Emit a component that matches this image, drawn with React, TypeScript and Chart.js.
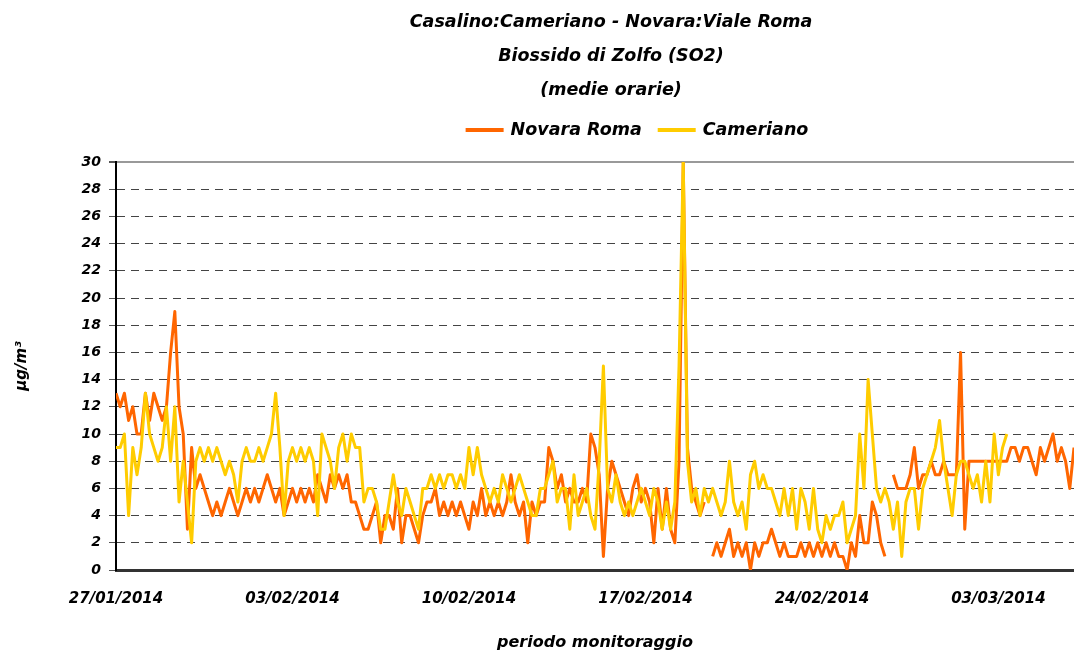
import React, { useEffect, useRef } from 'react';
import { Chart, registerables } from 'chart.js';

Chart.register(...registerables);

// Time step between values (hours), starting 27/01/2014 00:00
const STEP_HOURS = 4;
const HOURS_PER_WEEK = 168;
const X_MAX_HOURS = 912;

const WEEK_LABELS = ['27/01/2014', '03/02/2014', '10/02/2014', '17/02/2014', '24/02/2014', '03/03/2014'];

const TITLE_LINES = ['Casalino:Cameriano - Novara:Viale Roma', 'Biossido di Zolfo (SO2)', '(medie orarie)'];
const SERIES_NAMES = ['Novara Roma', 'Cameriano'];
const SERIES_COLORS = ['#FF6600', '#FFCC00'];
const Y_TITLE = 'µg/m³';
const X_TITLE = 'periodo monitoraggio';

const NOVARA_ROMA: (number | null)[] = [
  13, 12, 13, 11, 12, 10, 10, 13, 11, 13,
  12, 11, 12, 16, 19, 12, 10, 3, 9, 6,
  7, 6, 5, 4, 5, 4, 5, 6, 5, 4,
  5, 6, 5, 6, 5, 6, 7, 6, 5, 6,
  4, 5, 6, 5, 6, 5, 6, 5, 7, 6,
  5, 7, 6, 7, 6, 7, 5, 5, 4, 3,
  3, 4, 5, 2, 4, 4, 3, 6, 2, 4,
  4, 3, 2, 4, 5, 5, 6, 4, 5, 4,
  5, 4, 5, 4, 3, 5, 4, 6, 4, 5,
  4, 5, 4, 5, 7, 5, 4, 5, 2, 5,
  4, 5, 5, 9, 8, 6, 7, 5, 6, 5,
  5, 6, 5, 10, 9, 7, 1, 6, 8, 7,
  6, 5, 4, 6, 7, 5, 6, 5, 2, 6,
  3, 6, 3, 2, 8, 30, 9, 6, 5, 4,
  5, null, 1, 2, 1, 2, 3, 1, 2, 1,
  2, 0, 2, 1, 2, 2, 3, 2, 1, 2,
  1, 1, 1, 2, 1, 2, 1, 2, 1, 2,
  1, 2, 1, 1, 0, 2, 1, 4, 2, 2,
  5, 4, 2, 1, null, 7, 6, 6, 6, 7,
  9, 6, 7, 7, 8, 7, 7, 8, 7, 7,
  7, 16, 3, 8, 8, 8, 8, 8, 8, 8,
  8, 8, 8, 9, 9, 8, 9, 9, 8, 7,
  9, 8, 9, 10, 8, 9, 8, 6, 9,
];

const CAMERIANO: (number | null)[] = [
  9, 9, 10, 4, 9, 7, 9, 13, 10, 9,
  8, 9, 12, 8, 12, 5, 8, 5, 2, 8,
  9, 8, 9, 8, 9, 8, 7, 8, 7, 5,
  8, 9, 8, 8, 9, 8, 9, 10, 13, 9,
  4, 8, 9, 8, 9, 8, 9, 8, 4, 10,
  9, 8, 6, 9, 10, 8, 10, 9, 9, 5,
  6, 6, 5, 3, 3, 5, 7, 5, 4, 6,
  5, 4, 3, 6, 6, 7, 6, 7, 6, 7,
  7, 6, 7, 6, 9, 7, 9, 7, 6, 5,
  6, 5, 7, 6, 5, 6, 7, 6, 5, 4,
  4, 6, 6, 7, 8, 5, 6, 6, 3, 7,
  4, 5, 6, 4, 3, 8, 15, 6, 5, 7,
  5, 4, 5, 4, 5, 6, 5, 4, 6, 5,
  3, 5, 3, 5, 15, 30, 8, 5, 6, 4,
  6, 5, 6, 5, 4, 5, 8, 5, 4, 5,
  3, 7, 8, 6, 7, 6, 6, 5, 4, 6,
  4, 6, 3, 6, 5, 3, 6, 3, 2, 4,
  3, 4, 4, 5, 2, 3, 4, 10, 6, 14,
  10, 6, 5, 6, 5, 3, 5, 1, 5, 6,
  6, 3, 6, 7, 8, 9, 11, 8, 6, 4,
  7, 8, 8, 7, 6, 7, 5, 8, 5, 10,
  7, 9, 10,
];

const FONT = '"Comic Sans MS", "DejaVu Sans", sans-serif';

const toPoints = (arr: (number | null)[]) => arr.map((v, i) => ({ x: i * STEP_HOURS, y: v }));

const headerPlugin = {
  id: 'header',
  afterDraw(chart: any) {
    const ctx = chart.ctx as CanvasRenderingContext2D;
    ctx.save();
    ctx.fillStyle = '#000';
    ctx.textBaseline = 'middle';
    ctx.textAlign = 'center';
    ctx.font = `italic bold 17.5px ${FONT}`;
    const titleY = [22, 56, 90];
    TITLE_LINES.forEach((t, i) => ctx.fillText(t, 611, titleY[i]));

    const lineLen = 38;
    const gap = 7;
    const itemGap = 16;
    const items = chart.data.datasets.map((ds: any) => ({
      label: ds.label as string,
      color: ds.borderColor as string,
      w: ctx.measureText(ds.label).width,
    }));
    const total = items.reduce((s: number, it: any) => s + lineLen + gap + it.w, 0) + itemGap * (items.length - 1);
    let x = 637 - total / 2;
    const y = 130;
    ctx.textAlign = 'left';
    items.forEach((it: any) => {
      ctx.strokeStyle = it.color;
      ctx.lineWidth = 4;
      ctx.beginPath();
      ctx.moveTo(x, y);
      ctx.lineTo(x + lineLen, y);
      ctx.stroke();
      x += lineLen + gap;
      ctx.fillText(it.label, x, y);
      x += it.w + itemGap;
    });
    ctx.restore();
  },
};

export default function App() {
  const canvasRef = useRef<HTMLCanvasElement | null>(null);

  useEffect(() => {
    if (!canvasRef.current) return;
    const tickFont = { family: FONT, size: 14, style: 'italic' as const, weight: 'bold' as const };
    const chart = new Chart(canvasRef.current, {
      type: 'line',
      data: {
        datasets: [
          {
            label: SERIES_NAMES[0],
            data: toPoints(NOVARA_ROMA),
            borderColor: SERIES_COLORS[0],
            backgroundColor: SERIES_COLORS[0],
            borderWidth: 3,
            pointRadius: 0,
            tension: 0,
            spanGaps: false,
            borderJoinStyle: 'round',
            order: 1,
          },
          {
            label: SERIES_NAMES[1],
            data: toPoints(CAMERIANO),
            borderColor: SERIES_COLORS[1],
            backgroundColor: SERIES_COLORS[1],
            borderWidth: 3,
            pointRadius: 0,
            tension: 0,
            spanGaps: false,
            borderJoinStyle: 'round',
            order: 0,
          },
        ],
      },
      options: {
        animation: false,
        responsive: false,
        devicePixelRatio: 1,
        layout: { padding: { top: 162, right: 0, bottom: 0, left: 0 } },
        plugins: {
          legend: { display: false },
          title: { display: false },
          tooltip: { enabled: false },
        },
        scales: {
          x: {
            type: 'linear',
            min: 0,
            max: X_MAX_HOURS,
            grid: { display: false, drawTicks: false },
            border: { display: true, color: '#333', width: 3 },
            ticks: {
              stepSize: HOURS_PER_WEEK,
              includeBounds: false,
              autoSkip: false,
              maxRotation: 0,
              minRotation: 0,
              padding: 20,
              color: '#000',
              font: { ...tickFont, size: 15 },
              callback: (value: any) => {
                const idx = Number(value) / HOURS_PER_WEEK;
                return Number.isInteger(idx) && WEEK_LABELS[idx] ? WEEK_LABELS[idx] : '';
              },
            },
            title: {
              display: true,
              text: X_TITLE,
              color: '#000',
              font: { ...tickFont, size: 16 },
              padding: { top: 0, bottom: 3 },
            },
            afterFit: (s: any) => {
              s.height = 85;
            },
          },
          y: {
            min: 0,
            max: 30,
            ticks: {
              stepSize: 2,
              color: '#000',
              padding: 8,
              font: tickFont,
            },
            grid: {
              color: (c: any) => (c.tick && c.tick.value === 30 ? '#999' : '#444'),
              lineWidth: (c: any) => (c.tick && c.tick.value === 30 ? 2 : 1),
              tickLength: 7,
              tickColor: '#555',
              tickBorderDash: [1, 0],
            },
            border: {
              display: true,
              color: '#000',
              width: 2,
              dash: (c: any) => (c.tick && c.tick.value === 30 ? [] : [8, 6]),
            },
            title: {
              display: true,
              text: Y_TITLE,
              color: '#000',
              font: { ...tickFont, size: 15 },
              padding: { top: 13, bottom: 0 },
            },
            afterFit: (s: any) => {
              s.width = 116;
            },
          },
        },
      },
      plugins: [headerPlugin],
    } as any);
    return () => chart.destroy();
  }, []);

  return (
    <div style={{ position: 'absolute', left: 0, top: 0, width: 1074, height: 655, background: '#fff' }}>
      <canvas ref={canvasRef} width={1074} height={655} />
    </div>
  );
}
